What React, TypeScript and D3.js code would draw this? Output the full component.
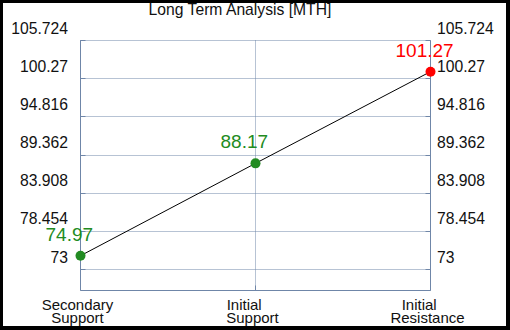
import * as d3 from 'd3';
import React, { useEffect, useRef } from 'react';

// values
const categories = [
  ['Secondary', 'Support'],
  ['Initial\u00A0\u00A0\u00A0\u00A0', 'Support'],
  ['Initial\u00A0\u00A0\u00A0\u00A0', 'Resistance'],
];
const levels = [74.97, 88.17, 101.27];
const levelColors = ['#228B22', '#228B22', '#FF0000'];
const yTicks = [73, 78.454, 83.908, 89.362, 94.816, 100.27, 105.724];
const yDomain = [70, 105.724];
const title = 'Long Term Analysis [MTH]';

const width = 510;
const height = 330;
const font = '"Liberation Sans", Arial, sans-serif';
const axisColor = '#6F86A8';

const App: React.FC = () => {
  const svgRef = useRef<SVGSVGElement>(null);

  useEffect(() => {
    if (!svgRef.current) return;
    const svg = d3.select(svgRef.current);
    svg.selectAll('*').remove();

    const margin = { top: 40.5, right: 79.5, bottom: 39.5, left: 80.5 };
    const innerWidth = width - margin.left - margin.right;
    const innerHeight = height - margin.top - margin.bottom;

    // frame
    svg.append('rect').attr('width', width).attr('height', height).attr('fill', '#000');
    svg.append('rect')
      .attr('x', 3).attr('y', 3)
      .attr('width', width - 7).attr('height', height - 7)
      .attr('fill', '#fff');

    const x = d3.scalePoint<number>()
      .domain(levels.map((_, i) => i))
      .range([0, innerWidth]);

    const y = d3.scaleLinear()
      .domain(yDomain)
      .range([innerHeight, 0]);

    const g = svg.append('g')
      .attr('transform', `translate(${margin.left}, ${margin.top})`);

    // dotted grid
    g.selectAll('.hgrid')
      .data(yTicks)
      .join('line')
      .attr('x1', 0).attr('x2', innerWidth)
      .attr('y1', d => Math.round(y(d)))
      .attr('y2', d => Math.round(y(d)))
      .attr('stroke', axisColor)
      .attr('stroke-dasharray', '1,1');

    g.selectAll('.vgrid')
      .data(levels.map((_, i) => i))
      .join('line')
      .attr('x1', d => Math.round(x(d)!)).attr('x2', d => Math.round(x(d)!))
      .attr('y1', 0).attr('y2', innerHeight)
      .attr('stroke', axisColor)
      .attr('stroke-dasharray', '1,1');

    // short inward ticks
    g.selectAll('.ltick')
      .data(yTicks)
      .join('line')
      .attr('x1', 0).attr('x2', 5)
      .attr('y1', d => Math.round(y(d))).attr('y2', d => Math.round(y(d)))
      .attr('stroke', axisColor);
    g.selectAll('.rtick')
      .data(yTicks)
      .join('line')
      .attr('x1', innerWidth - 5).attr('x2', innerWidth)
      .attr('y1', d => Math.round(y(d))).attr('y2', d => Math.round(y(d)))
      .attr('stroke', axisColor);
    g.selectAll('.btick')
      .data(levels.map((_, i) => i))
      .join('line')
      .attr('x1', d => Math.round(x(d)!)).attr('x2', d => Math.round(x(d)!))
      .attr('y1', innerHeight - 5).attr('y2', innerHeight)
      .attr('stroke', axisColor);

    // axes frame (left, bottom, right)
    g.append('path')
      .attr('d', `M0,0V${innerHeight}H${innerWidth}V0`)
      .attr('fill', 'none')
      .attr('stroke', axisColor);

    // tick labels, both sides
    g.selectAll('.lab-l')
      .data(yTicks)
      .join('text')
      .attr('x', -12.5)
      .attr('y', d => y(d) - 7)
      .attr('text-anchor', 'end')
      .style('font-size', '15.7px')
      .style('font-family', font)
      .attr('fill', '#111')
      .text(d => String(d));

    g.selectAll('.lab-r')
      .data(yTicks)
      .join('text')
      .attr('x', innerWidth + 6.5)
      .attr('y', d => y(d) - 7)
      .attr('text-anchor', 'start')
      .style('font-size', '15.7px')
      .style('font-family', font)
      .attr('fill', '#111')
      .text(d => String(d));

    // category labels
    categories.forEach((lines, i) => {
      const t = g.append('text')
        .attr('text-anchor', 'middle')
        .style('font-size', '15px')
        .style('font-family', font)
        .style('white-space', 'pre')
        .attr('fill', '#111');
      lines.forEach((ln, j) => {
        t.append('tspan')
          .attr('x', x(i)! - 3)
          .attr('y', innerHeight + 19 + j * 13)
          .text(ln);
      });
    });

    // line through the levels
    const line = d3.line<number>()
      .x((_, i) => x(i)!)
      .y(d => y(d));

    g.append('path')
      .datum(levels)
      .attr('d', line)
      .attr('fill', 'none')
      .attr('stroke', '#000')
      .attr('stroke-width', 1);

    g.selectAll('.pt')
      .data(levels)
      .join('circle')
      .attr('cx', (_, i) => x(i)!)
      .attr('cy', d => y(d))
      .attr('r', 5)
      .attr('fill', (_, i) => levelColors[i]);

    g.selectAll('.val')
      .data(levels)
      .join('text')
      .attr('x', (_, i) => x(i)! - 35)
      .attr('y', d => y(d) - 15)
      .attr('text-anchor', 'start')
      .style('font-size', '19px')
      .style('font-family', font)
      .attr('fill', (_, i) => levelColors[i])
      .text(d => d.toFixed(2));

    // title
    svg.append('text')
      .attr('x', 240)
      .attr('y', 15)
      .attr('text-anchor', 'middle')
      .style('font-size', '15.7px')
      .style('font-family', font)
      .attr('fill', '#111')
      .text(title);
  }, []);

  return (
    <svg
      ref={svgRef}
      width={width}
      height={height}
      style={{ position: 'absolute', left: 0, top: 0, display: 'block' }}
    />
  );
};

export default App;
